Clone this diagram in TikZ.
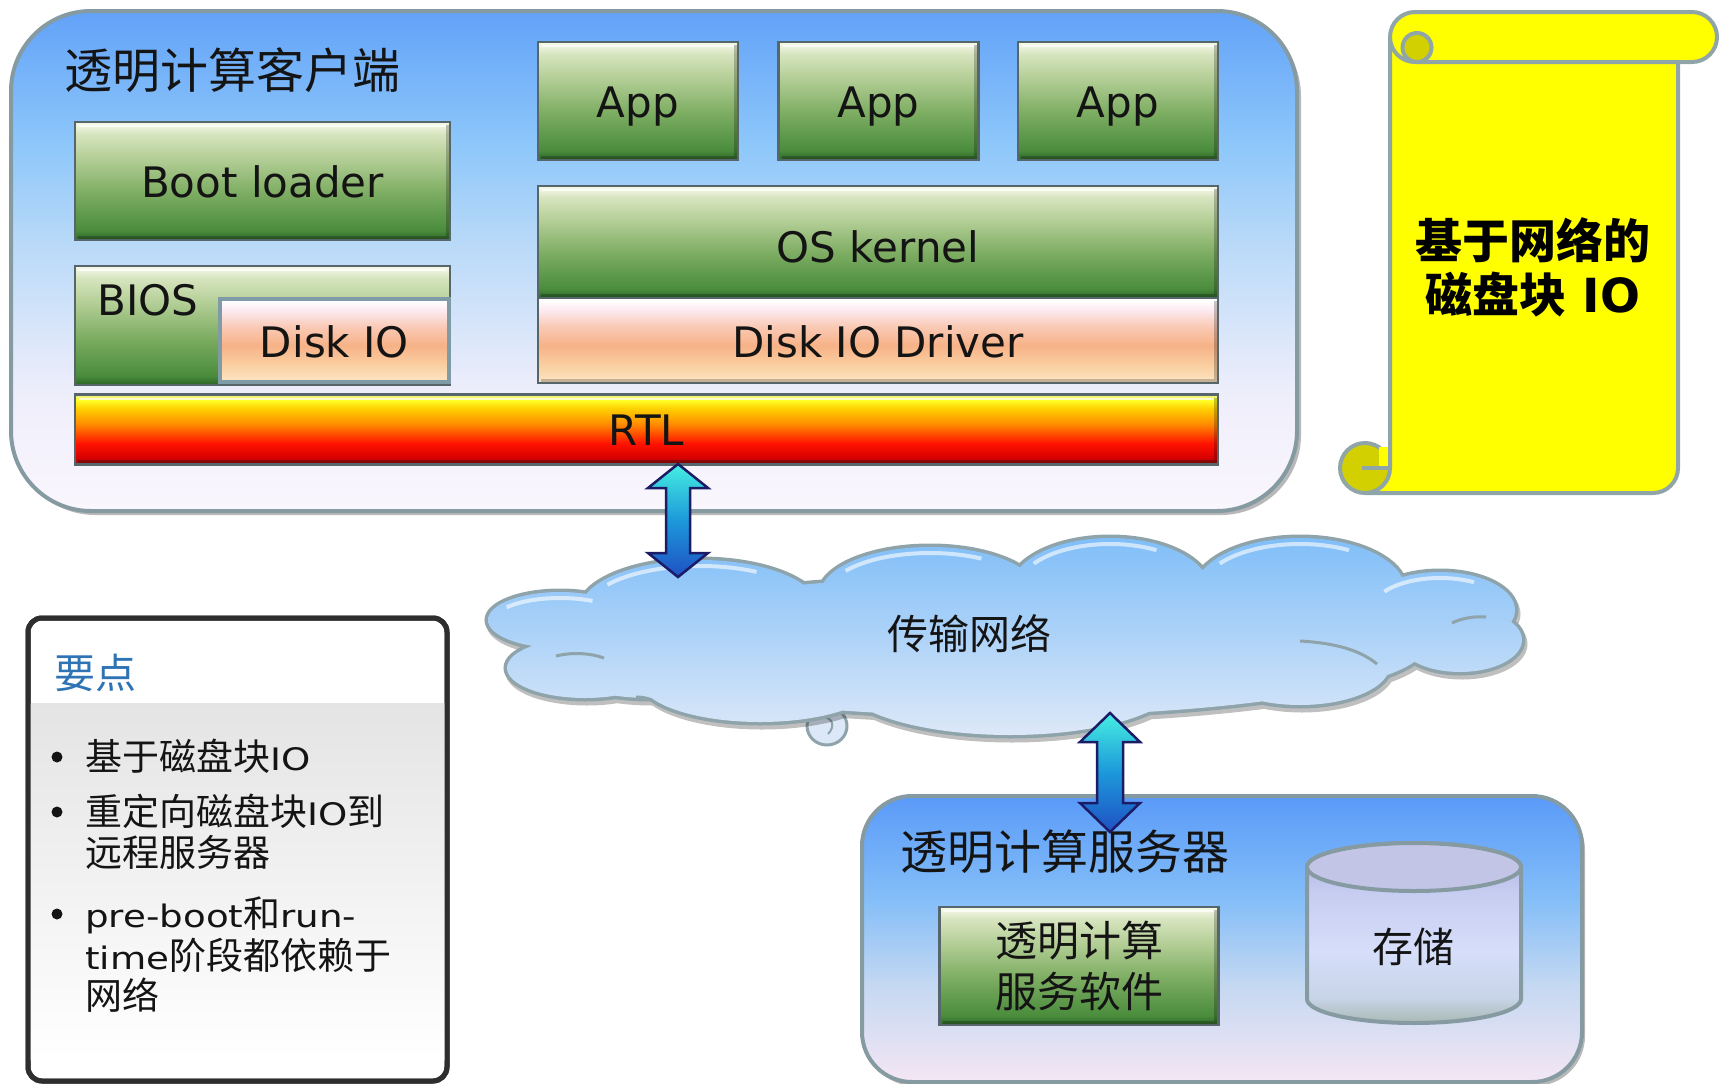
\documentclass[tikz,border=0pt]{standalone}
\usepackage{fontspec}
\setmainfont{DejaVu Sans}
\newfontfamily\cjkfont{Noto Sans CJK SC}
\newfontfamily\widelat{DejaVu Sans}[FakeStretch=1.2]
\usetikzlibrary{calc}

% ---------- colours ----------
\definecolor{boxedge}{HTML}{56666A}
\definecolor{diskedge}{HTML}{7F9CA6}
\definecolor{shellgray}{HTML}{869AA2}
\definecolor{gr0}{HTML}{F2F7E6}
\definecolor{gr1}{HTML}{D7E5BF}
\definecolor{gr2}{HTML}{B5CF98}
\definecolor{gr3}{HTML}{7DAD62}
\definecolor{gr4}{HTML}{4A8C3C}
\definecolor{gr5}{HTML}{2C6428}
\definecolor{pc0}{HTML}{FFFFFF}
\definecolor{pc1}{HTML}{FCEAF0}
\definecolor{pc2}{HTML}{F9C9B4}
\definecolor{pc3}{HTML}{F7B287}
\definecolor{pc4}{HTML}{FAD0A2}
\definecolor{pc5}{HTML}{FDE6C6}
\definecolor{rt0}{HTML}{EDEDA0}
\definecolor{rt1}{HTML}{FFFF28}
\definecolor{rt2}{HTML}{FFD000}
\definecolor{rt3}{HTML}{FF8C00}
\definecolor{rt4}{HTML}{FF1200}
\definecolor{rt5}{HTML}{D80000}
\definecolor{rt6}{HTML}{8A1212}
\definecolor{cb0}{HTML}{62A2F8}
\definecolor{cb1}{HTML}{8CC6FA}
\definecolor{cb2}{HTML}{B8D9F8}
\definecolor{cb3}{HTML}{EEEEFB}
\definecolor{cb4}{HTML}{FAF6FD}
\definecolor{sb0}{HTML}{5A9AF8}
\definecolor{sb1}{HTML}{84BEF8}
\definecolor{sb2}{HTML}{C4D8F2}
\definecolor{sb3}{HTML}{F4E6F4}
\definecolor{cy0}{HTML}{A6AADC}
\definecolor{cy1}{HTML}{C6CCF0}
\definecolor{cy2}{HTML}{D6DEFA}
\definecolor{cy3}{HTML}{C8D4E8}
\definecolor{cy4}{HTML}{A9B9B4}
\definecolor{cytop}{HTML}{C2C5E6}
\definecolor{ar0}{HTML}{46EEE2}
\definecolor{ar1}{HTML}{1C98DA}
\definecolor{ar2}{HTML}{2050C4}
\definecolor{arrowedge}{HTML}{1C1C66}
\definecolor{cloudtop}{HTML}{80BEF8}
\definecolor{cloudbot}{HTML}{DCE8F8}
\definecolor{cloudedge}{HTML}{8FA3AA}
\definecolor{scrolly}{HTML}{FFFF00}
\definecolor{scrolldark}{HTML}{D2D000}
\definecolor{scrolledge}{HTML}{8FA5A8}
\definecolor{keyedge}{HTML}{2E2E2E}
\definecolor{keyshade}{HTML}{E4E4E4}
\definecolor{keyblue}{HTML}{2E74B5}
\definecolor{inkblack}{HTML}{141414}

% ---------- shadings ----------
\pgfdeclareverticalshading{greenshade}{100bp}{color(0bp)=(gr5); color(25bp)=(gr5); color(29bp)=(gr4); color(45bp)=(gr3); color(60bp)=(gr2); color(70bp)=(gr1); color(74bp)=(gr0); color(100bp)=(gr0)}
\pgfdeclareverticalshading{peachshade}{100bp}{color(0bp)=(pc5); color(25bp)=(pc5); color(35bp)=(pc4); color(47bp)=(pc3); color(58bp)=(pc2); color(68bp)=(pc1); color(74bp)=(pc0); color(100bp)=(pc0)}
\pgfdeclareverticalshading{rtlshade}{100bp}{color(0bp)=(rt6); color(25bp)=(rt6); color(30bp)=(rt5); color(40bp)=(rt4); color(54bp)=(rt3); color(65bp)=(rt2); color(71bp)=(rt1); color(75bp)=(rt0); color(100bp)=(rt0)}
\pgfdeclareverticalshading{clientshade}{100bp}{color(0bp)=(cb4); color(25bp)=(cb4); color(37bp)=(cb3); color(52bp)=(cb2); color(62bp)=(cb1); color(75bp)=(cb0); color(100bp)=(cb0)}
\pgfdeclareverticalshading{servershade}{100bp}{color(0bp)=(sb3); color(25bp)=(sb3); color(42bp)=(sb2); color(57bp)=(sb1); color(75bp)=(sb0); color(100bp)=(sb0)}
\pgfdeclareverticalshading{drumshade}{100bp}{color(0bp)=(cy4); color(25bp)=(cy4); color(32bp)=(cy3); color(45bp)=(cy2); color(62bp)=(cy1); color(75bp)=(cy0); color(100bp)=(cy0)}
\pgfdeclareverticalshading{arrowshade}{100bp}{color(0bp)=(ar2); color(25bp)=(ar2); color(50bp)=(ar1); color(75bp)=(ar0); color(100bp)=(ar0)}
\pgfdeclareverticalshading{cloudshade}{100bp}{color(0bp)=(cloudbot); color(25bp)=(cloudbot); color(75bp)=(cloudtop); color(100bp)=(cloudtop)}

\newcommand\blat[1]{{\widelat\fontsize{31}{40}\selectfont #1}}
\newcommand\bcjk[1]{{\cjkfont\fontsize{37}{40}\selectfont #1}}

\begin{document}
\begin{tikzpicture}[x=1pt,y=-1pt,
  boxbase/.style={draw=boxedge, line width=2.5pt, inner sep=0pt, outer sep=0pt},
  greenbox/.style={boxbase, shade, shading=greenshade},
  peachbox/.style={boxbase, shade, shading=peachshade},
  rtlbox/.style={boxbase, shade, shading=rtlshade},
  latfont/.style={font=\fontsize{42}{50}\selectfont, text=inkblack},
  lattext/.style={latfont, text height=33pt, text depth=0pt},
  arrowbody/.style={shade, shading=arrowshade, draw=arrowedge, line width=2.5pt, line join=miter},
  hilite/.style={white, opacity=0.7, line width=2pt},
  lowlite/.style={black, opacity=0.22, line width=3pt},
  shell/.style={draw=shellgray, line width=4pt},
  shadowfill/.style={fill=black, opacity=0.28},
  scrollpart/.style={draw=scrolledge, line width=4pt, line join=round},
  bullettext/.style={anchor=base west, inner sep=0pt, text=inkblack},
]
\useasboundingbox (0,0) rectangle (1719,1084);

% ================= client =================
\fill[shadowfill, rounded corners=80pt] (15,16) rectangle (1301,515);
\path[shell, shade, shading=clientshade, rounded corners=80pt] (11,11) rectangle (1297,511);
\node[anchor=west, inner sep=0pt, font=\cjkfont\fontsize{48}{56}\selectfont, text=inkblack] (clienttitle) at (64,70) {透明计算客户端};

\node[greenbox, lattext, minimum width=375pt, minimum height=118pt] (boot) at (262.5,181) {Boot loader};
\node[greenbox, minimum width=375pt, minimum height=119pt] (bios) at (262.5,325.5) {};
\node[latfont, anchor=base west, inner sep=0pt] (biostxt) at (97,315) {BIOS};
\node[peachbox, draw=diskedge, line width=4pt, lattext, minimum width=229pt, minimum height=83pt] (diskio) at (334.5,340.5) {Disk IO};

\foreach \i/\x in {1/638,2/878.5,3/1118}
  \node[greenbox, lattext, minimum width=200pt, minimum height=118pt] (app\i) at (\x,101) {App};
\node[greenbox, lattext, text height=40pt, minimum width=680pt, minimum height=112pt] (kernel) at (878,242) {OS kernel};
\node[peachbox, lattext, minimum width=680pt, minimum height=85pt] (driver) at (878,340.5) {Disk IO Driver};
\node[rtlbox, lattext, text height=31pt, minimum width=1143pt, minimum height=70pt] (rtl) at (646.5,429.5) {RTL};

% bevel edges
\foreach \n in {boot,app1,app2,app3,kernel,driver,rtl}{
  \draw[hilite] ($(\n.north west)+(4,4)$) -- ($(\n.north east)+(-4,4)$);
  \draw[lowlite] ($(\n.south west)+(3,-3)$) -- ($(\n.south east)+(-3,-3)$) -- ($(\n.north east)+(-3,3)$);
}
\draw[hilite] ($(bios.north west)+(4,4)$) -- ($(bios.north east)+(-4,4)$);

% ================= scroll =================
\path[scrollpart, fill=scrolly] (1390,40) -- (1390,468) -- (1365,468) -- (1365,493)
   [rounded corners=25pt] -- (1678,493) -- (1678,40) [sharp corners] -- cycle;
\path[scrollpart, fill=scrolldark] (1365,468) circle (25);
\fill[scrolly] (1379,447) rectangle (1389,467);
\draw[scrollpart] (1390,444) -- (1390,468) -- (1362,468);
\path[scrollpart, fill=scrolly, rounded corners=25pt] (1390,12) rectangle (1717,62);
\path[scrollpart, fill=scrolldark] (1417,47.5) circle (14.5);
\node[align=center, inner sep=0pt, font=\bfseries\fontsize{47}{54}\selectfont, text=black] (scrolltxt) at (1533,267)
  {{\cjkfont 基于网络的}\\{\cjkfont 磁盘块} IO};

% ================= key points =================
\path[draw=keyedge, line width=5pt, rounded corners=14pt, fill=white] (28,618) rectangle (447,1081);
\shade[top color=keyshade, bottom color=white] (30.5,703) rectangle (444.5,1060);
\draw[keyedge, line width=5pt, rounded corners=14pt] (28,618) rectangle (447,1081);
\node[anchor=west, inner sep=0pt, font=\cjkfont\fontsize{41}{48}\selectfont, text=keyblue] (keytitle) at (54,673) {要点};
\foreach \y in {757,812,914} \fill[inkblack] (57,\y) circle (5.5);
\node[bullettext] (k1) at (85,770) {\bcjk{基于磁盘块}\blat{IO}};
\node[bullettext] (k2) at (85,825) {\bcjk{重定向磁盘块}\blat{IO}\bcjk{到}};
\node[bullettext] (k3) at (85,866) {\bcjk{远程服务器}};
\node[bullettext] (k4) at (85,927) {\blat{pre-boot}\bcjk{和}\blat{run-}};
\node[bullettext] (k5) at (85,969) {\blat{time}\bcjk{阶段都依赖于}};
\node[bullettext] (k6) at (85,1009) {\bcjk{网络}};

% ================= server =================
\fill[shadowfill, rounded corners=50pt] (865,800) rectangle (1585,1086);
\path[shell, shade, shading=servershade, rounded corners=50pt] (862,796) rectangle (1582,1082);
\node[inner sep=0pt, font=\cjkfont\fontsize{47}{56}\selectfont, text=inkblack] (servertitle) at (1065,852) {透明计算服务器};
\node[greenbox, align=center, font=\cjkfont\fontsize{42}{51}\selectfont, text=inkblack,
      minimum width=279pt, minimum height=118pt] (svc) at (1079,966) {透明计算\\服务软件};
\draw[hilite] ($(svc.north west)+(4,4)$) -- ($(svc.north east)+(-4,4)$);
\draw[lowlite] ($(svc.south west)+(3,-3)$) -- ($(svc.south east)+(-3,-3)$) -- ($(svc.north east)+(-3,3)$);

% storage drum
\path[shell, shade, shading=drumshade] (1307,867) -- (1307,999)
   arc[start angle=180, end angle=0, x radius=107, y radius=24] -- (1521,867)
   arc[start angle=0, end angle=-180, x radius=107, y radius=24] -- cycle;
\path[shell, fill=cytop] (1414,867) ellipse [x radius=107, y radius=24];
\node[inner sep=0pt, font=\cjkfont\fontsize{41}{48}\selectfont, text=inkblack] (store) at (1413,947) {存储};

% ================= cloud =================
\path[draw=cloudedge, line width=3pt, fill=cloudbot] (827,726) ellipse [x radius=20, y radius=19];
\draw[cloudedge, line width=2pt] (822,718) .. controls (832,716) and (836,726) .. (828,734);
\path[draw=black, opacity=0.25, line width=7pt, shift={(2,4)}]
  foreach \cx/\cy/\rx/\ry in {1005/646/420/70, 560/620/72/28, 585/668/78/30, 700/610/120/50,
    930/595/110/48, 1110/590/100/52, 1300/590/105/52, 1440/610/75/38, 1460/640/62/32,
    1300/665/90/40, 1010/680/170/55, 760/680/120/42, 650/668/90/30}
  {(\cx,\cy) ellipse [x radius=\rx, y radius=\ry]};
\path[draw=cloudedge, line width=7pt]
  foreach \cx/\cy/\rx/\ry in {1005/646/420/70, 560/620/72/28, 585/668/78/30, 700/610/120/50,
    930/595/110/48, 1110/590/100/52, 1300/590/105/52, 1440/610/75/38, 1460/640/62/32,
    1300/665/90/40, 1010/680/170/55, 760/680/120/42, 650/668/90/30}
  {(\cx,\cy) ellipse [x radius=\rx, y radius=\ry]};
\path[shade, shading=cloudshade]
  foreach \cx/\cy/\rx/\ry in {1005/646/420/70, 560/620/72/28, 585/668/78/30, 700/610/120/50,
    930/595/110/48, 1110/590/100/52, 1300/590/105/52, 1440/610/75/38, 1460/640/62/32,
    1300/665/90/40, 1010/680/170/55, 760/680/120/42, 650/668/90/30}
  {(\cx,\cy) ellipse [x radius=\rx, y radius=\ry]};
% light rims on the upper puffs
\foreach \cx/\cy/\rx/\ry in {700/610/120/50, 930/595/110/48, 1110/590/100/52, 1300/590/105/52, 1440/610/75/38, 560/620/72/28}
  \draw[white, opacity=0.6, line width=4pt]
    ($(\cx,\cy)+({(\rx-7)*cos(215)},{(\ry-6)*sin(215)})$)
    arc[start angle=215, end angle=300, x radius=\rx-7, y radius=\ry-6];
% inner folds
\draw[cloudedge, line width=3pt] (1300,641) .. controls (1335,643) and (1360,650) .. (1377,664);
\draw[cloudedge, line width=3pt] (1452,623) .. controls (1462,618) and (1475,616) .. (1486,617);
\draw[cloudedge, line width=3pt] (556,656) .. controls (572,652) and (590,653) .. (604,658);
\draw[cloudedge, line width=3pt] (636,697) .. controls (642,697) and (647,698) .. (652,700);
\node[inner sep=0pt, font=\cjkfont\fontsize{41}{48}\selectfont, text=inkblack] (cloudtxt) at (969,634) {传输网络};

% ================= arrows =================
\coordinate (a1t) at (678,464);
\coordinate (a1b) at (678,577);
\path[arrowbody] (a1t) -- ($(a1t)+(30,24)$) -- ($(a1t)+(12,24)$) -- ($(a1b)+(12,-24)$) -- ($(a1b)+(30,-24)$)
  -- (a1b) -- ($(a1b)+(-30,-24)$) -- ($(a1b)+(-12,-24)$) -- ($(a1t)+(-12,24)$) -- ($(a1t)+(-30,24)$) -- cycle;
\coordinate (a2t) at (1110,713);
\coordinate (a2b) at (1110,832);
\path[arrowbody] (a2t) -- ($(a2t)+(30,29)$) -- ($(a2t)+(13,29)$) -- ($(a2b)+(13,-29)$) -- ($(a2b)+(30,-29)$)
  -- (a2b) -- ($(a2b)+(-30,-29)$) -- ($(a2b)+(-13,-29)$) -- ($(a2t)+(-13,29)$) -- ($(a2t)+(-30,29)$) -- cycle;
\end{tikzpicture}
\end{document}
